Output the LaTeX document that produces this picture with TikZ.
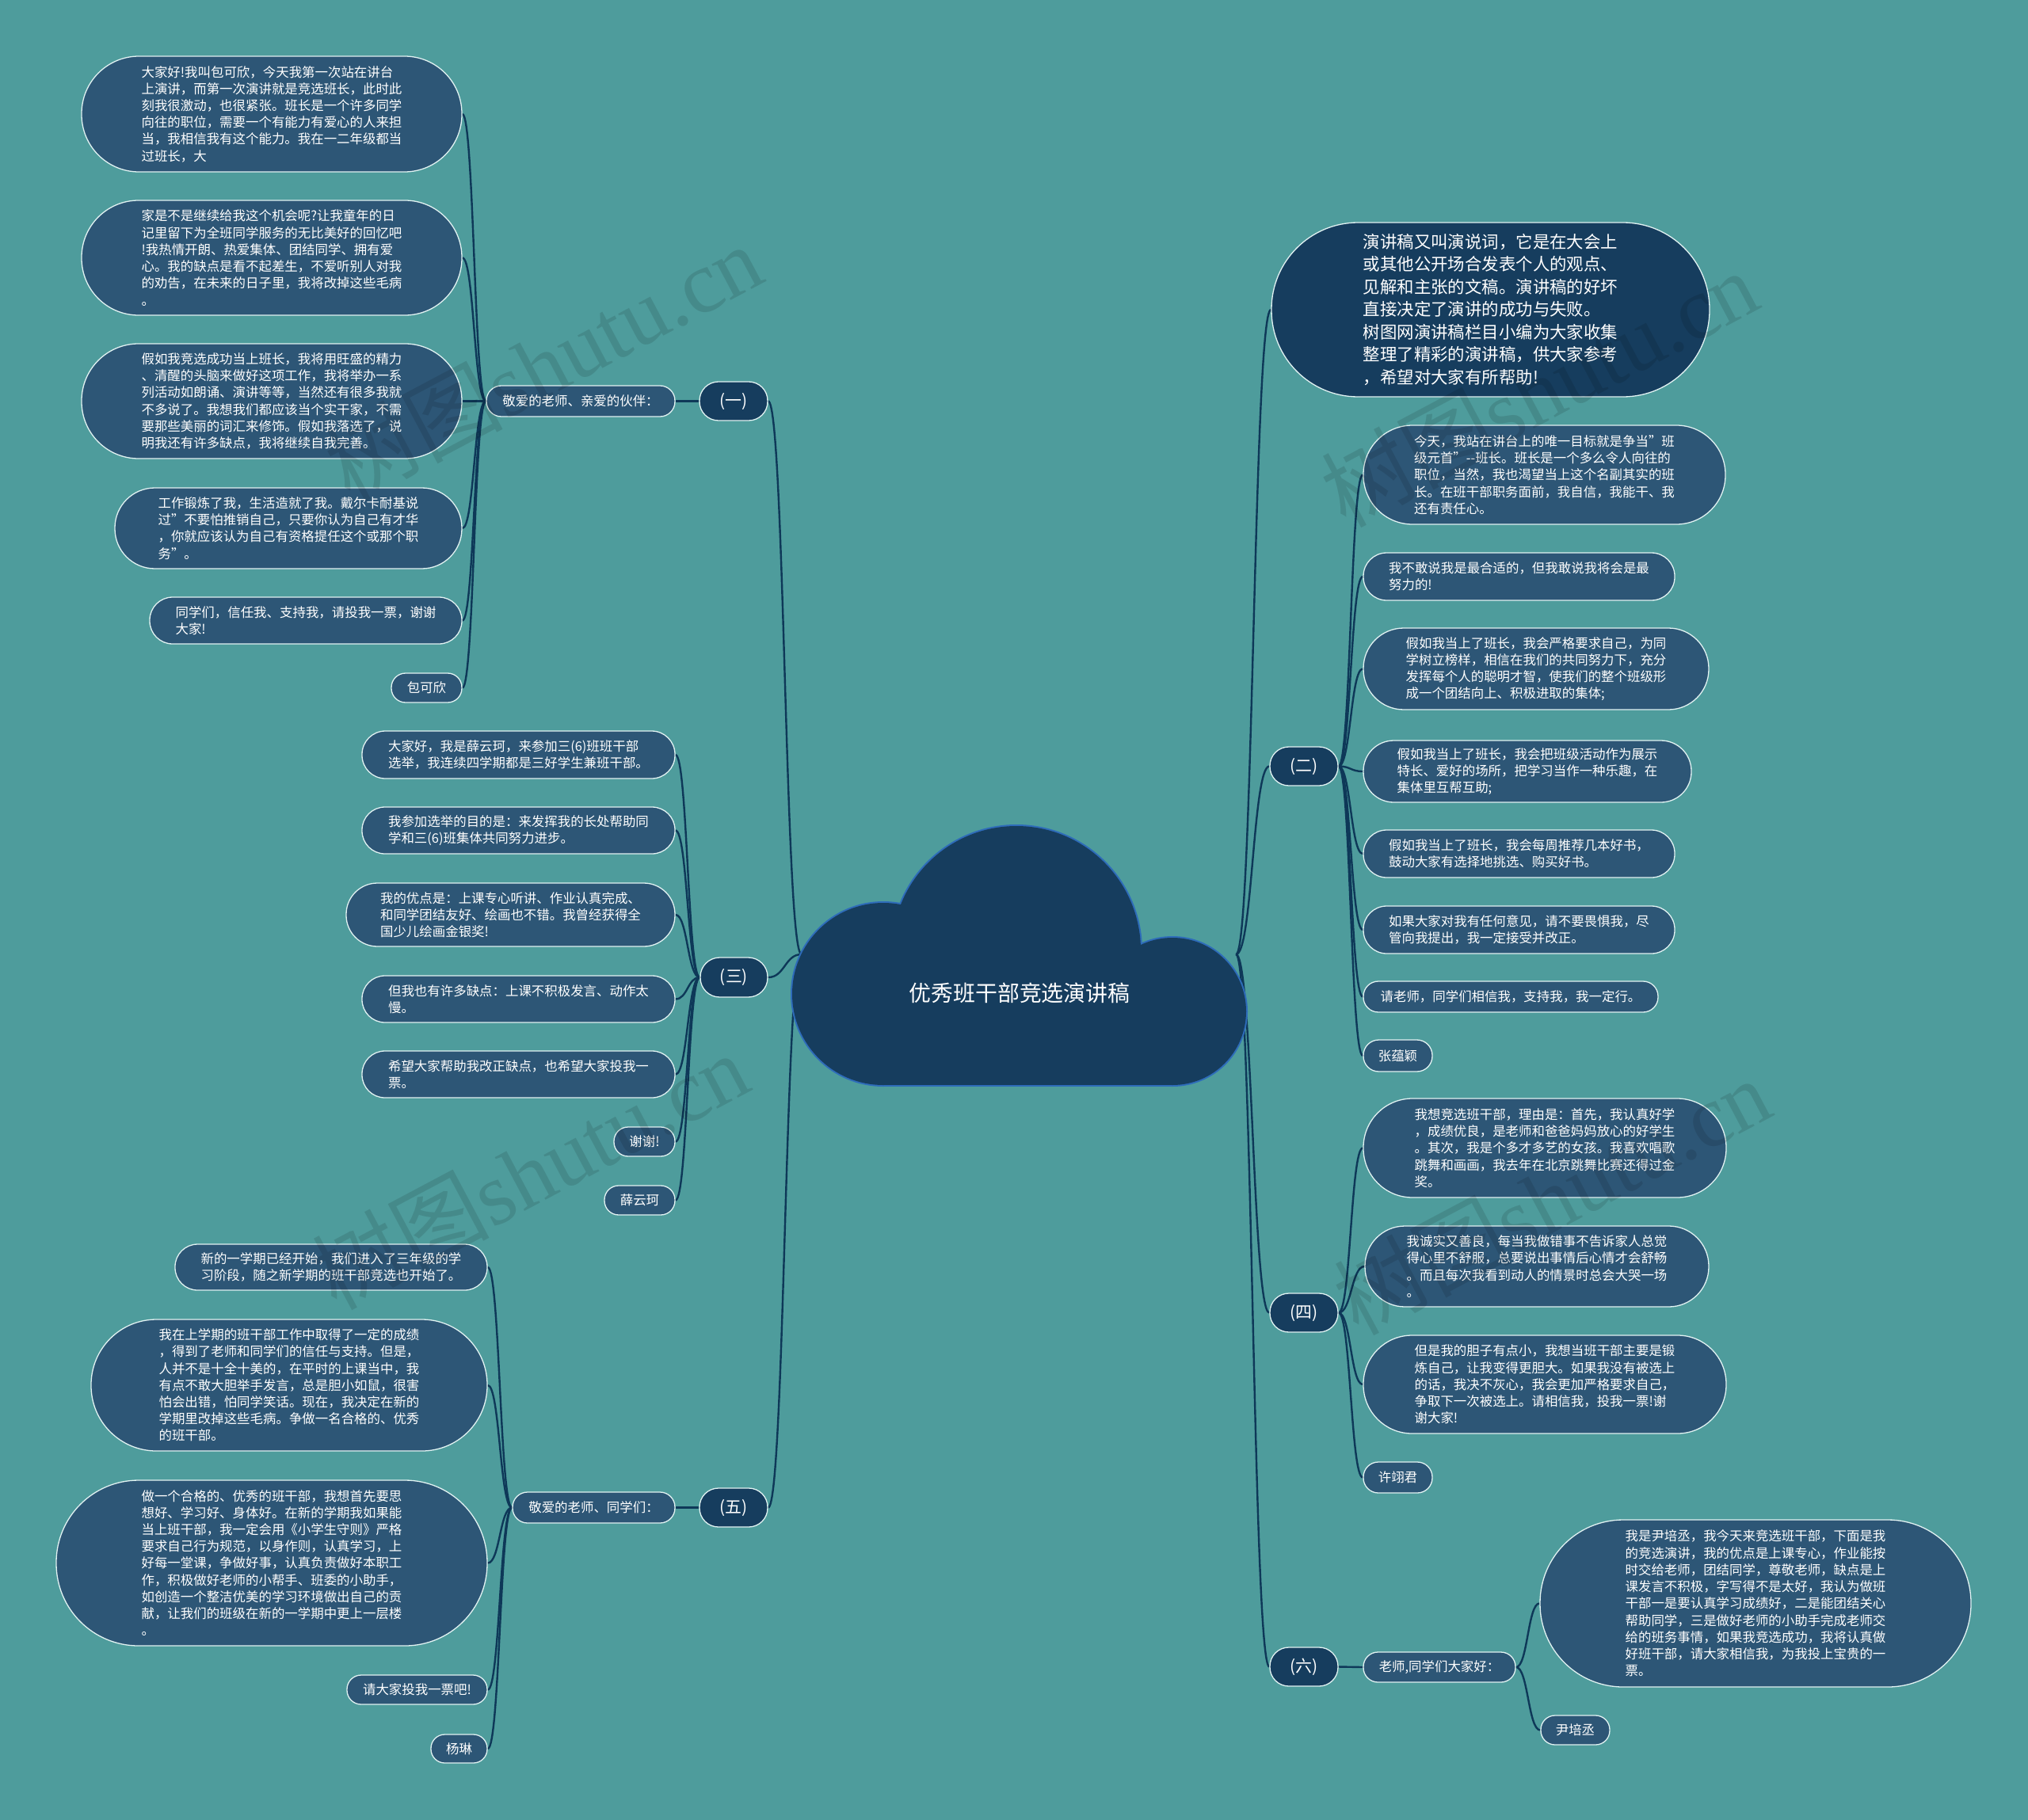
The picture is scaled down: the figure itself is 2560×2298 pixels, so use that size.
\documentclass[tikz,border=0pt]{standalone}
\usepackage{fontspec}
\setmainfont{Noto Sans CJK SC}
\newfontfamily\wmfont{Liberation Serif}
\usetikzlibrary{calc}
\definecolor{bg}{RGB}{78,156,156}
\definecolor{leaffill}{RGB}{45,86,118}
\definecolor{darkfill}{RGB}{22,61,94}
\definecolor{edgecol}{RGB}{14,56,88}
\definecolor{rim}{RGB}{225,242,242}
\definecolor{cloudrim}{RGB}{46,108,186}
\pgfdeclarelayer{bgl}
\pgfsetlayers{bgl,main}
\newcommand\mmnode[7]{%
  \pgfmathsetmacro\mmw{#5-#3}%
  \pgfmathsetmacro\mmh{#6-#4}%
  \pgfmathsetmacro\mmr{(#6-#4)/2-0.6}%
  \pgfmathsetmacro\mmx{(#3+#5)/2}%
  \pgfmathsetmacro\mmy{(#4+#6)/2}%
  \node[#1, minimum width=\mmw bp, minimum height=\mmh bp, rounded corners=\mmr bp] (#2) at (\mmx,\mmy) {#7};%
}
\tikzset{
  box/.style={draw=rim, line width=1.3bp, inner sep=0pt, text=white, align=left, font=\fontsize{16.5}{21.3}\selectfont},
  leaf/.style={box, fill=leaffill},
  lab/.style={box, fill=leaffill},
  branch/.style={box, fill=darkfill, font=\fontsize{21}{25}\selectfont},
  intro/.style={box, fill=darkfill, font=\fontsize{21.5}{28.6}\selectfont},
  conn/.style={draw=edgecol, line width=2.4bp},
  hconn/.style={to path={let \p1=(\tikztostart), \p2=(\tikztotarget) in .. controls ({0.5*\x1+0.5*\x2},\y1) and ({0.5*\x1+0.5*\x2},\y2) .. (\tikztotarget)}},
  wm/.style={rotate=28, opacity=0.11, text=black, font=\fontsize{112}{112}\selectfont, inner sep=0pt},
}
\begin{document}
\begin{tikzpicture}[x=1bp,y=-1bp]
\useasboundingbox (0,0) rectangle (2560,2298);
\begin{pgfonlayer}{bgl}
\fill[bg] (0,0) rectangle (2560,2298);
\end{pgfonlayer}

% ---------- cloud ----------
\node[inner sep=0pt, minimum width=548bp, minimum height=326bp] (cloud) at (1286,1205) {};
\begin{scope}[draw=cloudrim, line width=4bp]
  \draw (1115,1255) circle (115);
  \draw (1283,1200) circle (157);
  \draw (1480,1277) circle (93);
  \draw (1115,1210) rectangle (1480,1370);
\end{scope}
\begin{scope}[fill=darkfill]
  \fill (1115,1255) circle (115);
  \fill (1283,1200) circle (157);
  \fill (1480,1277) circle (93);
  \fill (1115,1205) rectangle (1480,1370);
\end{scope}
\node[text=white, font=\fontsize{28}{32}\selectfont, inner sep=0pt] (title) at (1287,1254) {优秀班干部竞选演讲稿};

% ---------- (一) ----------
\mmnode{branch}{one}{883}{482}{969}{531}{(一)}
\mmnode{lab}{onelab}{614}{487}{852}{526}{敬爱的老师、亲爱的伙伴：}
\mmnode{leaf}{a1}{103}{71}{583}{217}{大家好!我叫包可欣，今天我第一次站在讲台\\上演讲，而第一次演讲就是竞选班长，此时此\\刻我很激动，也很紧张。班长是一个许多同学\\向往的职位，需要一个有能力有爱心的人来担\\当，我相信我有这个能力。我在一二年级都当\\过班长，大}
\mmnode{leaf}{a2}{103}{253}{583}{398}{家是不是继续给我这个机会呢?让我童年的日\\记里留下为全班同学服务的无比美好的回忆吧\\!我热情开朗、热爱集体、团结同学、拥有爱\\心。我的缺点是看不起差生，不爱听别人对我\\的劝告，在未来的日子里，我将改掉这些毛病\\。}
\mmnode{leaf}{a3}{103}{434}{583}{579}{假如我竞选成功当上班长，我将用旺盛的精力\\、清醒的头脑来做好这项工作，我将举办一系\\列活动如朗诵、演讲等等，当然还有很多我就\\不多说了。我想我们都应该当个实干家，不需\\要那些美丽的词汇来修饰。假如我落选了，说\\明我还有许多缺点，我将继续自我完善。}
\mmnode{leaf}{a4}{145}{616}{583}{718}{工作锻炼了我，生活造就了我。戴尔卡耐基说\\过"不要怕推销自己，只要你认为自己有才华\\，你就应该认为自己有资格提任这个或那个职\\务"。}
\mmnode{leaf}{a5}{189}{754}{583}{813}{同学们，信任我、支持我，请投我一票，谢谢\\大家!}
\mmnode{leaf}{a6}{494}{850}{583}{887}{包可欣}

% ---------- (三) ----------
\mmnode{branch}{three}{884}{1209}{969}{1259}{(三)}
\mmnode{leaf}{b1}{457}{923}{852}{983}{大家好，我是薛云珂，来参加三(6)班班干部\\选举，我连续四学期都是三好学生兼班干部。}
\mmnode{leaf}{b2}{457}{1019}{852}{1078}{我参加选举的目的是：来发挥我的长处帮助同\\学和三(6)班集体共同努力进步。}
\mmnode{leaf}{b3}{437}{1115}{852}{1195}{我的优点是：上课专心听讲、作业认真完成、\\和同学团结友好、绘画也不错。我曾经获得全\\国少儿绘画金银奖!}
\mmnode{leaf}{b4}{457}{1232}{852}{1291}{但我也有许多缺点：上课不积极发言、动作太\\慢。}
\mmnode{leaf}{b5}{457}{1327}{852}{1386}{希望大家帮助我改正缺点，也希望大家投我一\\票。}
\mmnode{leaf}{b6}{775}{1423}{852}{1460}{谢谢!}
\mmnode{leaf}{b7}{763}{1497}{852}{1534}{薛云珂}

% ---------- (五) ----------
\mmnode{branch}{five}{883}{1879}{969}{1928}{(五)}
\mmnode{lab}{fivelab}{647}{1884}{852}{1923}{敬爱的老师、同学们：}
\mmnode{leaf}{c1}{221}{1571}{615}{1629}{新的一学期已经开始，我们进入了三年级的学\\习阶段，随之新学期的班干部竞选也开始了。}
\mmnode{leaf}{c2}{115}{1666}{615}{1832}{我在上学期的班干部工作中取得了一定的成绩\\，得到了老师和同学们的信任与支持。但是，\\人并不是十全十美的，在平时的上课当中，我\\有点不敢大胆举手发言，总是胆小如鼠，很害\\怕会出错，怕同学笑话。现在，我决定在新的\\学期里改掉这些毛病。争做一名合格的、优秀\\的班干部。}
\mmnode{leaf}{c3}{71}{1869}{615}{2078}{做一个合格的、优秀的班干部，我想首先要思\\想好、学习好、身体好。在新的学期我如果能\\当上班干部，我一定会用《小学生守则》严格\\要求自己行为规范，以身作则，认真学习，上\\好每一堂课，争做好事，认真负责做好本职工\\作，积极做好老师的小帮手、班委的小助手，\\如创造一个整洁优美的学习环境做出自己的贡\\献，让我们的班级在新的一学期中更上一层楼\\。}
\mmnode{leaf}{c4}{438}{2115}{615}{2152}{请大家投我一票吧!}
\mmnode{leaf}{c5}{544}{2190}{615}{2226}{杨琳}

% ---------- intro ----------
\mmnode{intro}{intro}{1605}{281}{2158}{501}{演讲稿又叫演说词，它是在大会上\\或其他公开场合发表个人的观点、\\见解和主张的文稿。演讲稿的好坏\\直接决定了演讲的成功与失败。\\树图网演讲稿栏目小编为大家收集\\整理了精彩的演讲稿，供大家参考\\，希望对大家有所帮助!}

% ---------- (二) ----------
\mmnode{branch}{two}{1603}{943}{1689}{992}{(二)}
\mmnode{leaf}{d1}{1721}{537}{2178}{662}{今天，我站在讲台上的唯一目标就是争当"班\\级元首"-{}-班长。班长是一个多么令人向往的\\职位，当然，我也渴望当上这个名副其实的班\\长。在班干部职务面前，我自信，我能干、我\\还有责任心。}
\mmnode{leaf}{d2}{1721}{698}{2114}{758}{我不敢说我是最合适的，但我敢说我将会是最\\努力的!}
\mmnode{leaf}{d3}{1721}{793}{2157}{896}{假如我当上了班长，我会严格要求自己，为同\\学树立榜样，相信在我们的共同努力下，充分\\发挥每个人的聪明才智，使我们的整个班级形\\成一个团结向上、积极进取的集体;}
\mmnode{leaf}{d4}{1721}{935}{2135}{1013}{假如我当上了班长，我会把班级活动作为展示\\特长、爱好的场所，把学习当作一种乐趣，在\\集体里互帮互助;}
\mmnode{leaf}{d5}{1721}{1048}{2114}{1108}{假如我当上了班长，我会每周推荐几本好书，\\鼓动大家有选择地挑选、购买好书。}
\mmnode{leaf}{d6}{1721}{1144}{2114}{1204}{如果大家对我有任何意见，请不要畏惧我，尽\\管向我提出，我一定接受并改正。}
\mmnode{leaf}{d7}{1721}{1239}{2093}{1278}{请老师，同学们相信我，支持我，我一定行。}
\mmnode{leaf}{d8}{1721}{1313}{1808}{1353}{张蕴颖}

% ---------- (四) ----------
\mmnode{branch}{four}{1603}{1633}{1689}{1682}{(四)}
\mmnode{leaf}{e1}{1721}{1387}{2179}{1512}{我想竞选班干部，理由是：首先，我认真好学\\，成绩优良，是老师和爸爸妈妈放心的好学生\\。其次，我是个多才多艺的女孩。我喜欢唱歌\\跳舞和画画，我去年在北京跳舞比赛还得过金\\奖。}
\mmnode{leaf}{e2}{1723}{1548}{2157}{1650}{我诚实又善良，每当我做错事不告诉家人总觉\\得心里不舒服，总要说出事情后心情才会舒畅\\。而且每次我看到动人的情景时总会大哭一场\\。}
\mmnode{leaf}{e3}{1721}{1686}{2179}{1810}{但是我的胆子有点小，我想当班干部主要是锻\\炼自己，让我变得更胆大。如果我没有被选上\\的话，我决不灰心，我会更加严格要求自己，\\争取下一次被选上。请相信我，投我一票!谢\\谢大家!}
\mmnode{leaf}{e4}{1721}{1846}{1808}{1885}{许翊君}

% ---------- (六) ----------
\mmnode{branch}{six}{1603}{2080}{1689}{2129}{(六)}
\mmnode{lab}{sixlab}{1721}{2086}{1913}{2124}{老师,同学们大家好：}
\mmnode{leaf}{f1}{1944}{1919}{2488}{2130}{我是尹培丞，我今天来竞选班干部，下面是我\\的竞选演讲，我的优点是上课专心，作业能按\\时交给老师，团结同学，尊敬老师，缺点是上\\课发言不积极，字写得不是太好，我认为做班\\干部一是要认真学习成绩好，二是能团结关心\\帮助同学，三是做好老师的小助手完成老师交\\给的班务事情，如果我竞选成功，我将认真做\\好班干部，请大家相信我，为我投上宝贵的一\\票。}
\mmnode{leaf}{f2}{1945}{2166}{2032}{2203}{尹培丞}

% ---------- connectors ----------
\begin{pgfonlayer}{bgl}
\foreach \t in {one,three,five} \draw[conn] (cloud.west) to[hconn] (\t.east);
\draw[conn] (one.west) to[hconn] (onelab.east);
\foreach \t in {a1,a2,a3,a4,a5,a6} \draw[conn] (onelab.west) to[hconn] (\t.east);
\foreach \t in {b1,b2,b3,b4,b5,b6,b7} \draw[conn] (three.west) to[hconn] (\t.east);
\draw[conn] (five.west) to[hconn] (fivelab.east);
\foreach \t in {c1,c2,c3,c4,c5} \draw[conn] (fivelab.west) to[hconn] (\t.east);
\foreach \t in {intro,two,four,six} \draw[conn] (cloud.east) to[hconn] (\t.west);
\foreach \t in {d1,d2,d3,d4,d5,d6,d7,d8} \draw[conn] (two.east) to[hconn] (\t.west);
\foreach \t in {e1,e2,e3,e4} \draw[conn] (four.east) to[hconn] (\t.west);
\draw[conn] (six.east) to[hconn] (sixlab.west);
\foreach \t in {f1,f2} \draw[conn] (sixlab.east) to[hconn] (\t.west);
\end{pgfonlayer}

% ---------- watermarks ----------
\node[wm] (wm1) at (686,457) {树图{\wmfont shutu.cn}};
\node[wm] (wm2) at (669,1478) {树图{\wmfont shutu.cn}};
\node[wm] (wm3) at (1943,490) {树图{\wmfont shutu.cn}};
\node[wm] (wm4) at (1959,1510) {树图{\wmfont shutu.cn}};
\end{tikzpicture}
\end{document}
